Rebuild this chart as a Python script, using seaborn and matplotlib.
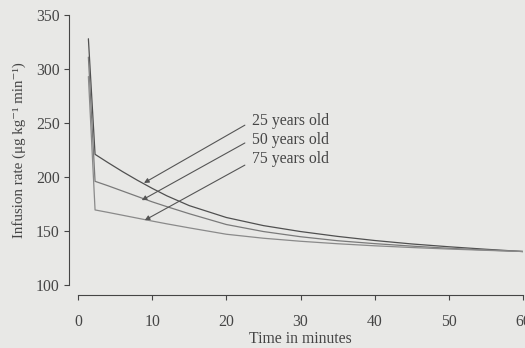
import matplotlib
matplotlib.use("Agg")
import matplotlib.pyplot as plt
import seaborn as sns
import pandas as pd

# ---- data ----
times = [1.4, 2.3, 4, 6, 8, 10, 12, 15, 20, 25, 30, 35, 40, 45, 50, 55, 60]
rate_25 = [328, 221, 213.5, 205, 197, 189.5, 182.5, 173.5, 162.5, 155, 149.5, 145, 141.2, 138, 135.4, 133.1, 131]
rate_50 = [311, 196, 192, 187, 182, 177, 172.5, 166, 156, 149.5, 144.7, 141, 138.3, 136, 134, 132.4, 131]
rate_75 = [293, 169.5, 167.3, 164.6, 161.9, 159.2, 156.6, 152.9, 147, 143.3, 140.5, 138.2, 136.3, 134.7, 133.3, 132.1, 131]
series_labels = ["25 years old", "50 years old", "75 years old"]
x_ticks = [0, 10, 20, 30, 40, 50, 60]
y_ticks = [100, 150, 200, 250, 300, 350]

# arrow anchors: text position, arrow tail, arrow head (data units)
arrow_text_xy = [(23.4, 252), (23.4, 234.5), (23.4, 217)]
arrow_start_xy = [(22.5, 248), (22.5, 231.5), (22.5, 211)]
arrow_head_xy = [(8.9, 194.5), (8.6, 178.5), (9.0, 160)]

df = pd.concat([
    pd.DataFrame({"time": times, "rate": r, "age": lab})
    for r, lab in zip([rate_25, rate_50, rate_75], series_labels)
])

sns.set_style("ticks")
bg = "#e8e8e6"
ink = "#454545"
fs = 11.3
plt.rcParams["font.family"] = ["Liberation Serif", "DejaVu Serif"]
plt.rcParams["font.size"] = fs
plt.rcParams["text.color"] = ink
plt.rcParams["axes.labelcolor"] = ink
plt.rcParams["xtick.color"] = ink
plt.rcParams["ytick.color"] = ink

fig = plt.figure(figsize=(5.25, 3.48), dpi=100, facecolor=bg)
ax = fig.add_axes([78 / 525, 1 - 285 / 348, 445 / 525, 270 / 348])
ax.set_facecolor(bg)

palette = {"25 years old": "#505050", "50 years old": "#7a7a7a", "75 years old": "#8a8a8a"}
sns.lineplot(data=df, x="time", y="rate", hue="age", palette=palette,
             linewidth=0.9, ax=ax, legend=False, sort=False)

ax.set_xlim(0, 60)
ax.set_ylim(100, 350)
ax.set_xticks(x_ticks)
ax.set_yticks(y_ticks)
ax.tick_params(axis="both", length=3.6, width=0.8, labelsize=fs)
ax.tick_params(axis="x", pad=10)
ax.tick_params(axis="y", pad=3)
for sp in ax.spines.values():
    sp.set_color(ink)
    sp.set_linewidth(0.8)
sns.despine(ax=ax, offset={"left": 6.5, "bottom": 7.2}, trim=True)

ax.set_xlabel("Time in minutes", labelpad=1)
ax.set_ylabel("Infusion rate (μg kg⁻¹ min⁻¹)", labelpad=7, fontsize=10.8)

for lab, txy, sxy, hxy in zip(series_labels, arrow_text_xy, arrow_start_xy, arrow_head_xy):
    ax.text(txy[0], txy[1], lab, ha="left", va="center", fontsize=fs, color=ink)
    ax.annotate("", xy=hxy, xytext=sxy,
                arrowprops=dict(arrowstyle="-|>", color="#555555", lw=0.8,
                                mutation_scale=7, shrinkA=0, shrinkB=0))

fig.savefig("out.png", dpi=100, facecolor=bg)
